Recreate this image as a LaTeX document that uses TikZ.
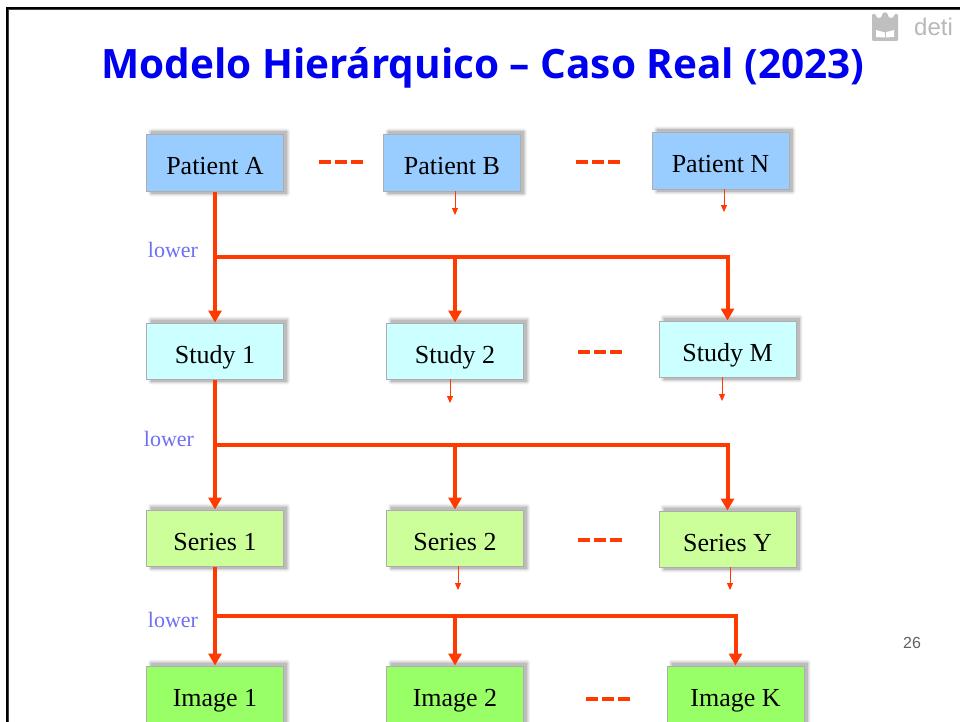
\documentclass[tikz,border=0pt]{standalone}
\usepackage{fontspec}
\setmainfont{Liberation Serif}
\newfontfamily\titlefont{Open Sans}[BoldFont={Open Sans Bold}]
\newfontfamily\arialfont{Liberation Sans}
\usetikzlibrary{arrows.meta,backgrounds,calc}
\definecolor{linkred}{HTML}{FF3A00}
\definecolor{pblue}{HTML}{99CCFF}
\definecolor{scyan}{HTML}{CCFFFF}
\definecolor{sgreen}{HTML}{CCFF99}
\definecolor{igreen}{HTML}{99FF66}
\definecolor{lowerblue}{HTML}{6F6FF5}
\definecolor{titleblue}{HTML}{0000F0}
\tikzset{
  x=1pt,y=-1pt,
  rec/.style={draw=black!32,line width=1pt,inner sep=0pt,minimum width=137pt,minimum height=56pt,font=\fontsize{26}{28}\selectfont,text=black,text height=24pt,text depth=0pt},
  patientbox/.style={rec,fill=pblue},
  studybox/.style={rec,fill=scyan},
  seriesbox/.style={rec,fill=sgreen},
  imagebox/.style={rec,fill=igreen},
  mainlink/.style={draw=linkred,line width=4pt},
  mainarrow/.style={mainlink,-{Triangle[length=12pt,width=13pt]}},
  thinarrow/.style={draw=linkred,line width=1pt,-{Triangle[length=7pt,width=6pt]}},
  dashlink/.style={draw=linkred,line width=3.2pt,dash pattern=on 12pt off 4pt},
  lowerlabel/.style={text=lowerblue,font=\fontsize{22}{24}\selectfont,inner sep=0pt},
}
\newcommand{\softshade}[1]{%
  \begin{pgfonlayer}{background}
    \foreach \e/\o in {3/.04,2/.06,1/.08,0/.10}{
      \fill[black,opacity=\o,rounded corners=\e pt] ($(#1.north west)+(5-\e,-3-\e)$) rectangle ($(#1.south east)+(3+\e,2+\e)$);
    }
  \end{pgfonlayer}}
\begin{document}
\begin{tikzpicture}
\useasboundingbox (0,0) rectangle (960,722);
\begin{pgfonlayer}{background}
\fill[white] (0,0) rectangle (960,722);
\end{pgfonlayer}
% frame
\draw[black!75,line width=1pt] (8.5,722) -- (8.5,9.5) -- (960,9.5);
\draw[black,line width=2.4pt] (7,722) -- (7,8) -- (960,8);
% title
\node[inner sep=0pt,text=titleblue,font=\titlefont\bfseries\fontsize{40.5}{42}\selectfont] (title) at (483,68) {Modelo Hierárquico – Caso Real (2023)};
% logo
\fill[black!25,rounded corners=1.2pt] (872,14) -- (875.5,14) -- (877,18) -- (881,18) -- (883,12.5) -- (887,12.5) -- (889,18) -- (893,18) -- (894.5,14) -- (898,14) -- (898,41) -- (872,41) -- cycle;
\fill[white] (876,30) -- (885,32.5) -- (894,30) -- (894,37) -- (885,37.5) -- (876,37) -- cycle;
\fill[black!25] (884.5,32) rectangle (885.5,37.5);
\node[inner sep=0pt,text=black!28,font=\arialfont\fontsize{24}{26}\selectfont] (deti) at (933.5,27) {deti};
\node[inner sep=0pt,text=black!62,font=\arialfont\fontsize{16}{18}\selectfont] (pagenum) at (912,643) {26};
% boxes
\node[patientbox] (pa) at (215,163) {Patient A};
\node[patientbox] (pb) at (452,163) {Patient B};
\node[patientbox] (pn) at (720.5,161) {Patient N};
\node[studybox] (s1) at (215,351) {Study 1};
\node[studybox] (s2) at (455,351) {Study 2};
\node[studybox] (sm) at (727.5,349) {Study M};
\node[seriesbox] (e1) at (215,538) {Series 1};
\node[seriesbox] (e2) at (455,538) {Series 2};
\node[seriesbox] (ey) at (727.5,539) {Series Y};
\node[imagebox] (i1) at (215,694) {Image 1};
\node[imagebox] (i2) at (455,694) {Image 2};
\node[imagebox] (ik) at (735.5,694) {Image K};
\foreach \n in {pa,pb,pn,s1,s2,sm,e1,e2,ey,i1,i2,ik}{\softshade{\n}}
% labels
\node[lowerlabel] (l1) at (173,250) {lower};
\node[lowerlabel] (l2) at (169,439) {lower};
\node[lowerlabel] (l3) at (173,620) {lower};
% junctions
\coordinate (j1) at (215,257); \coordinate (j2) at (215,445); \coordinate (j3) at (215,616);
% main connectors
\draw[mainarrow] (pa.south) -- (s1.north);
\draw[mainarrow] (j1) -- (j1 -| s2.north) -- (s2.north);
\draw[mainarrow] (j1) -- (j1 -| sm.north) -- (sm.north);
\draw[mainarrow] (s1.south) -- (e1.north);
\draw[mainarrow] (j2) -- (j2 -| e2.north) -- (e2.north);
\draw[mainarrow] (j2) -- (j2 -| ey.north) -- (ey.north);
\draw[mainarrow] (e1.south) -- (i1.north);
\draw[mainarrow] (j3) -- (j3 -| i2.north) -- (i2.north);
\draw[mainarrow] (j3) -- (j3 -| ik.north) -- (ik.north);
% small arrows
\coordinate (b1) at (455,191); \coordinate (b1e) at (455,215);
\coordinate (b2) at (724,189); \coordinate (b2e) at (724,212);
\coordinate (b3) at (450,379); \coordinate (b3e) at (450,403);
\coordinate (b4) at (722,377); \coordinate (b4e) at (722,401);
\coordinate (b5) at (458,566); \coordinate (b5e) at (458,590);
\coordinate (b6) at (730,567); \coordinate (b6e) at (730,590);
\foreach \i in {1,...,6}{\draw[thinarrow] (b\i) -- (b\i e);}
% dashes
\coordinate (d1a) at (319,162); \coordinate (d1b) at (363,162);
\coordinate (d2a) at (576,162); \coordinate (d2b) at (620,162);
\coordinate (d3a) at (578,352); \coordinate (d3b) at (622,352);
\coordinate (d4a) at (578,540); \coordinate (d4b) at (622,540);
\coordinate (d5a) at (586,699); \coordinate (d5b) at (630,699);
\foreach \i in {1,...,5}{\draw[dashlink] (d\i a) -- (d\i b);}
\end{tikzpicture}
\end{document}
